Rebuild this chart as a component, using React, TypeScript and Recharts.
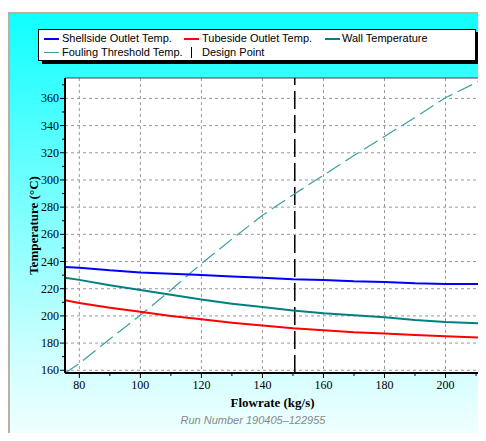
import {
	CartesianGrid,
	Line,
	LineChart,
	ReferenceArea,
	ReferenceLine,
	XAxis,
	YAxis
} from 'recharts'

const flow = [75.3, 80, 90, 100, 110, 120, 130, 140, 150, 160, 170, 180, 190, 200, 211.3]
const shellside = [236, 235.5, 233.5, 232, 231, 230, 229, 228, 227, 226.5, 225.5, 225, 224, 223.5, 223.5]
const tubeside = [211.5, 209.5, 206, 203, 200, 197.5, 195, 193, 191, 189.5, 188, 187, 186, 185, 184]
const wall = [228, 226.5, 222.5, 219, 215.5, 212, 209, 206.5, 204, 202, 200.5, 199, 197, 195.5, 194.5]
const fouling = [158, 165, 183, 200.5, 219, 238.5, 256.5, 274, 289, 303.5, 318, 332, 346, 360.5, 373]

const designPoint = 150.6
const xTicks = [80, 90, 100, 110, 120, 130, 140, 150, 160, 170, 180, 190, 200, 210]
const xMajor = [80, 100, 120, 140, 160, 180, 200]
const yTicks = [160, 170, 180, 190, 200, 210, 220, 230, 240, 250, 260, 270, 280, 290, 300, 310, 320, 330, 340, 350, 360, 370]
const yMajor = [160, 180, 200, 220, 240, 260, 280, 300, 320, 340, 360]

const data = flow.map((f, i) => ({
	flow: f,
	shell: shellside[i],
	tube: tubeside[i],
	wall: wall[i],
	fouling: fouling[i]
}))

const serif = '"Liberation Serif", "Times New Roman", serif'
const sans = '"Liberation Sans", Arial, sans-serif'

function XTick(props: any) {
	const { x, y, payload } = props
	const major = payload.value % 20 === 0
	const y0 = y - 8
	return (
		<g>
			<line x1={x} x2={x} y1={y0} y2={y0 + (major ? 5 : 3)} stroke='#000' />
			{major && (
				<text x={x} y={y0 + 16} textAnchor='middle' fontFamily={serif} fontSize={12} fill='#000'>
					{payload.value}
				</text>
			)}
		</g>
	)
}

function YTick(props: any) {
	const { x, y, payload } = props
	const major = payload.value % 20 === 0
	const x0 = x + 6
	return (
		<g>
			<line x1={x0 - (major ? 5 : 3)} x2={x0} y1={y} y2={y} stroke='#000' />
			{major && (
				<text x={x0 - 6} y={y + 4} textAnchor='end' fontFamily={serif} fontSize={12} fill='#000'>
					{payload.value}
				</text>
			)}
		</g>
	)
}

function LegendBox() {
	const txt = { position: 'absolute' as const, fontFamily: sans, fontSize: 11, lineHeight: '13px', color: '#000', whiteSpace: 'nowrap' as const }
	const sample = (left: number, top: number, color: string, h: number) => (
		<div style={{ position: 'absolute', left, top, width: 15, height: h, background: color }} />
	)
	return (
		<div
			style={{
				position: 'absolute',
				left: 38,
				top: 29,
				width: 436,
				height: 30,
				background: '#fff',
				border: '1px solid #000',
				boxShadow: '4px 3px 0 #000'
			}}
		>
			{sample(5, 8, '#0000ff', 2)}
			<span style={{ ...txt, left: 23, top: 2 }}>Shellside Outlet Temp.</span>
			{sample(145, 8, '#ff0000', 2)}
			<span style={{ ...txt, left: 163, top: 2 }}>Tubeside Outlet Temp.</span>
			{sample(286, 8, '#008080', 2)}
			<span style={{ ...txt, left: 303, top: 2 }}>Wall Temperature</span>
			{sample(5, 22, '#3aa0a0', 1)}
			<span style={{ ...txt, left: 23, top: 16 }}>Fouling Threshold Temp.</span>
			<div style={{ position: 'absolute', left: 152, top: 17, width: 1, height: 11, background: '#000' }} />
			<span style={{ ...txt, left: 163, top: 16 }}>Design Point</span>
		</div>
	)
}

export default function App() {
	return (
		<div style={{ position: 'relative', width: 486, height: 441, margin: -8, background: '#fff', overflow: 'hidden' }}>
			<div
				style={{
					position: 'absolute',
					left: 8,
					top: 12,
					width: 486,
					height: 441,
					borderLeft: '2px solid #b8b0a0',
					borderTop: '2px solid #b8b0a0',
					background: 'linear-gradient(to bottom, #10ffff 0px, #c8ffff 330px, #f4ffff 429px)'
				}}
			/>
			<div style={{ position: 'absolute', left: 0, top: 0 }}>
				<LineChart width={486} height={441} data={data} margin={{ top: 78, right: 6, left: 0, bottom: 0 }}>
					<CartesianGrid
						xAxisId={0}
						yAxisId={0}
						fill='#fff'
						stroke='#999'
						strokeDasharray='3 3'
						verticalValues={xMajor}
						horizontalValues={yMajor}
					/>
					<ReferenceArea x1={75.3} x2={211.3} y1={158} y2={375} fill='none' stroke='#444' strokeWidth={1} />
					<XAxis
						dataKey='flow'
						type='number'
						domain={[75.3, 211.3]}
						allowDataOverflow
						ticks={xTicks}
						interval={0}
						height={68}
						tickSize={5}
						tickMargin={3}
						tickLine={false}
						tick={<XTick />}
						axisLine={{ stroke: '#000', strokeWidth: 2 }}
						label={{
							value: 'Flowrate (kg/s)',
							position: 'insideBottom',
							offset: 34,
							style: { fontFamily: serif, fontWeight: 'bold', fontSize: 13, fill: '#000' }
						}}
					/>
					<YAxis
						type='number'
						domain={[158, 375]}
						allowDataOverflow
						ticks={yTicks}
						interval={0}
						width={65}
						tickSize={5}
						tickMargin={1}
						tickLine={false}
						tick={<YTick />}
						axisLine={{ stroke: '#000', strokeWidth: 2 }}
						label={{
							value: 'Temperature (°C)',
							angle: -90,
							position: 'insideLeft',
							offset: 33,
							style: { textAnchor: 'middle', fontFamily: serif, fontWeight: 'bold', fontSize: 13, fill: '#000' }
						}}
					/>
					<ReferenceLine x={designPoint} stroke='#000' strokeWidth={1.5} strokeDasharray='18 6' />
					<Line dataKey='fouling' stroke='#3aa0a0' strokeWidth={1.2} strokeDasharray='16 6' dot={false} isAnimationActive={false} />
					<Line dataKey='shell' stroke='#0000ff' strokeWidth={2} dot={false} isAnimationActive={false} />
					<Line dataKey='wall' stroke='#008080' strokeWidth={2} dot={false} isAnimationActive={false} />
					<Line dataKey='tube' stroke='#ff0000' strokeWidth={2} dot={false} isAnimationActive={false} />
				</LineChart>
			</div>
			<LegendBox />
			<div
				style={{
					position: 'absolute',
					left: 0,
					width: 506,
					top: 414,
					textAlign: 'center',
					fontFamily: sans,
					fontStyle: 'italic',
					fontSize: 11,
					color: '#888'
				}}
			>
				Run Number 190405–122955
			</div>
		</div>
	)
}
